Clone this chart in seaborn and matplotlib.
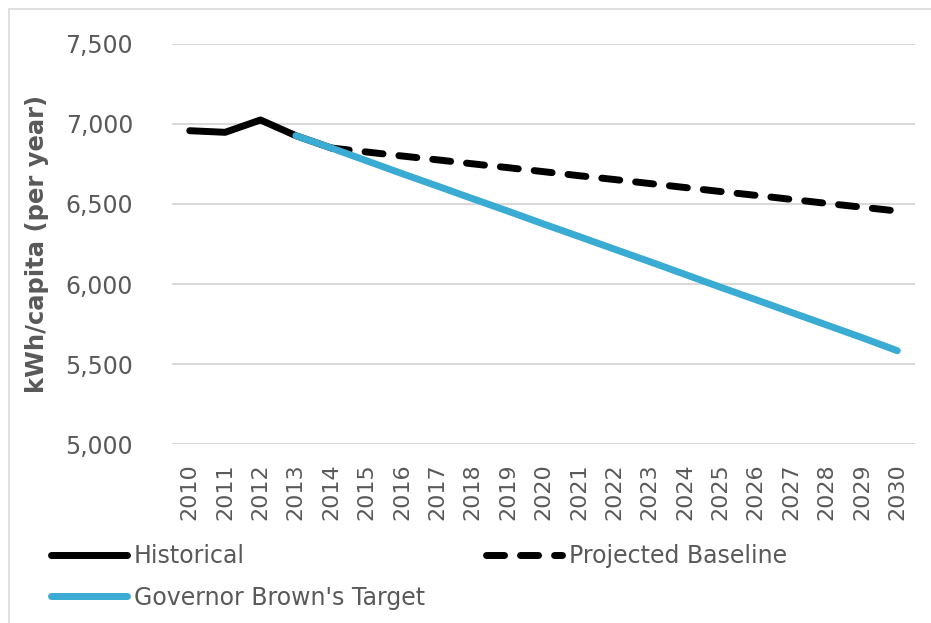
import matplotlib
matplotlib.use("Agg")
import matplotlib.pyplot as plt
import seaborn as sns
import pandas as pd
from matplotlib.patches import Rectangle
from matplotlib.lines import Line2D

years = [str(y) for y in range(2010, 2031)]

hist_years = ["2010", "2011", "2012", "2013", "2014"]
hist_vals = [6958, 6948, 7025, 6927, 6850]

base_years = [str(y) for y in range(2014, 2031)]
base_vals = [6850, 6825, 6800, 6776, 6751, 6727, 6702, 6677, 6653,
             6628, 6603, 6578, 6554, 6529, 6504, 6480, 6456]

target_years = [str(y) for y in range(2013, 2031)]
target_vals = [6927, 6850, 6770, 6690, 6612, 6533, 6455, 6375, 6297,
               6218, 6140, 6060, 5980, 5902, 5823, 5744, 5665, 5583]

y_ticks = [5000, 5500, 6000, 6500, 7000, 7500]
y_label = "kWh/capita (per year)"
labels = ["Historical", "Projected Baseline", "Governor Brown's Target"]

sns.set_style("white")
plt.rcParams['font.family'] = ['DejaVu Sans']

GRAY = "#595959"
BLUE = "#3aabd2"
DASH = (2.6, 2.3)

pos = {y: i for i, y in enumerate(years)}
df_h = pd.DataFrame({"x": [pos[y] for y in hist_years], "v": hist_vals})
df_b = pd.DataFrame({"x": [pos[y] for y in base_years], "v": base_vals})
df_t = pd.DataFrame({"x": [pos[y] for y in target_years], "v": target_vals})

fig = plt.figure(figsize=(9.31, 6.23), dpi=100)
ax = fig.add_axes([0.1848, 0.2873, 0.7980, 0.6421])

lw = 5.0
sns.lineplot(data=df_h, x="x", y="v", ax=ax, color="black", lw=lw,
             solid_capstyle="round", solid_joinstyle="round", zorder=3)
sns.lineplot(data=df_b, x="x", y="v", ax=ax, color="black", lw=lw,
             dashes=False, zorder=3)
ax.lines[-1].set_dashes(DASH)
ax.lines[-1].set_dash_capstyle("round")
sns.lineplot(data=df_t, x="x", y="v", ax=ax, color=BLUE, lw=lw,
             solid_capstyle="round", solid_joinstyle="round", zorder=4)

ax.set_xlim(-0.5, len(years) - 0.5)
ax.set_ylim(5000, 7500)
ax.set_xticks(range(len(years)))
ax.set_xticklabels(years, rotation=90, fontsize=16, color=GRAY)
ax.set_yticks(y_ticks)
ax.set_yticklabels([f"{v:,}" for v in y_ticks], fontsize=17, color=GRAY)
ax.tick_params(axis="y", length=0, pad=28)
ax.tick_params(axis="x", length=0, pad=14)
ax.set_xlabel("")
ax.set_ylabel(y_label, fontsize=17.5, fontweight="bold", color=GRAY, labelpad=12)
ax.grid(axis="y", color="#d9d9d9", lw=1.5)
ax.grid(axis="x", visible=False)
for s in ax.spines.values():
    s.set_visible(False)

h_hist = Line2D([], [], color="black", lw=lw, solid_capstyle="round")
h_base = Line2D([], [], color="black", lw=lw, dashes=DASH, dash_capstyle="round")
h_tgt = Line2D([], [], color=BLUE, lw=lw, solid_capstyle="round")
leg = fig.legend([h_hist, h_tgt, h_base], [labels[0], labels[2], labels[1]],
                 ncol=2, loc="upper left", bbox_to_anchor=(0.055, 0.127),
                 frameon=False, fontsize=17, handlelength=3.2, handletextpad=0.3,
                 columnspacing=2.6, labelspacing=0.75, labelcolor=GRAY,
                 borderaxespad=0, borderpad=0)

fig.patches.append(Rectangle((9 / 931, -0.1), 1.2, 1 - 9 / 623 + 0.1,
                             transform=fig.transFigure, fill=False,
                             edgecolor="#d9d9d9", lw=1.2))

fig.savefig("out.png", dpi=100)
